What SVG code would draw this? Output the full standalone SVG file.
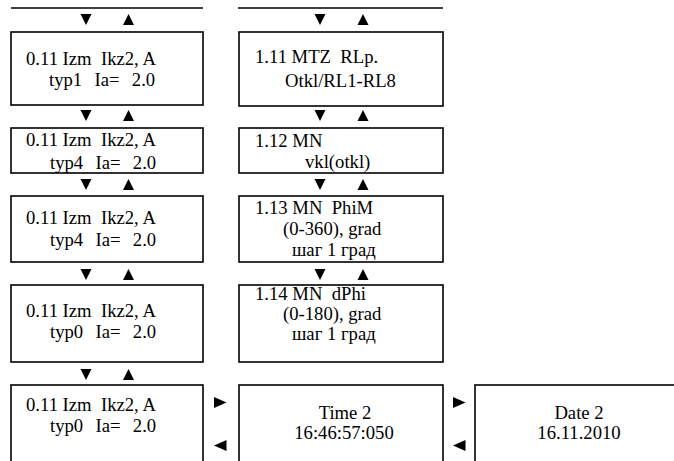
<svg xmlns="http://www.w3.org/2000/svg" width="674" height="461" viewBox="0 0 674 461">
<style>
.box{fill:#fff;stroke:#000;stroke-width:1.6}
.t{font-family:"Liberation Serif","Times New Roman",serif;font-size:18.67px;fill:#000;white-space:pre}
.w{word-spacing:1.5px}
.c{text-anchor:middle}
.ln{stroke:#000;stroke-width:1.6}
.ar{fill:#000}
</style>
<defs>
<path id="dn" d="M-5.5,0 H5.5 L0,11 Z"/>
<path id="up" d="M-5.5,11 H5.5 L0,0 Z"/>
<path id="rt" d="M0,0 V11 L12.5,5.5 Z"/>
<path id="lt" d="M12.5,0 V11 L0,5.5 Z"/>
</defs>
<g id="connectors" class="ar">
<line class="ln" x1="11" y1="8" x2="203" y2="8"/>
<line class="ln" x1="238" y1="8" x2="443" y2="8"/>
<use href="#dn" x="86" y="14"/><use href="#up" x="128.5" y="14"/>
<use href="#dn" x="86" y="110"/><use href="#up" x="128.5" y="110"/>
<use href="#dn" x="86" y="179"/><use href="#up" x="128.5" y="179"/>
<use href="#dn" x="86" y="269"/><use href="#up" x="128.5" y="269"/>
<use href="#dn" x="86" y="369"/><use href="#up" x="128.5" y="369"/>
<use href="#dn" x="320" y="14"/><use href="#up" x="363" y="14"/>
<use href="#dn" x="320" y="110"/><use href="#up" x="363" y="110"/>
<use href="#dn" x="320" y="179"/><use href="#up" x="363" y="179"/>
<use href="#dn" x="320" y="269"/><use href="#up" x="363" y="269"/>
<use href="#rt" x="214" y="397"/><use href="#lt" x="214" y="440"/>
<use href="#rt" x="453" y="397"/><use href="#lt" x="453" y="440"/>
</g>
<g id="n1"><rect class="box" x="11" y="32" width="192" height="73"/>
<text class="t" x="26" y="65">0.11 Izm  Ikz2, A</text><text class="t w" x="49" y="86">typ1  Ia=  2.0</text></g>
<g id="n2"><rect class="box" x="11" y="128" width="192" height="45"/>
<text class="t" x="26" y="146">0.11 Izm  Ikz2, A</text><text class="t w" x="50" y="169">typ4  Ia=  2.0</text></g>
<g id="n3"><rect class="box" x="11" y="196" width="192" height="66"/>
<text class="t" x="26" y="224">0.11 Izm  Ikz2, A</text><text class="t w" x="50" y="246">typ4  Ia=  2.0</text></g>
<g id="n4"><rect class="box" x="11" y="285" width="192" height="77"/>
<text class="t" x="26" y="317">0.11 Izm  Ikz2, A</text><text class="t w" x="50" y="338">typ0  Ia=  2.0</text></g>
<g id="n5"><rect class="box" x="11" y="385" width="192" height="90"/>
<text class="t" x="26" y="411">0.11 Izm  Ikz2, A</text><text class="t w" x="50" y="432">typ0  Ia=  2.0</text></g>
<g id="m1"><rect class="box" x="239" y="32" width="204" height="74"/>
<text class="t" x="255" y="63">1.11 MTZ  RLp.</text><text class="t" x="285" y="87">Otkl/RL1-RL8</text></g>
<g id="m2"><rect class="box" x="239" y="128" width="204" height="45"/>
<text class="t" x="255" y="147">1.12 MN</text><text class="t" x="305" y="168">vkl(otkl)</text></g>
<g id="m3"><rect class="box" x="239" y="196" width="204" height="66"/>
<text class="t" x="255" y="214">1.13 MN  PhiM</text><text class="t" x="283" y="235">(0-360), grad</text><text class="t" x="292" y="256">шаг 1 град</text></g>
<g id="m4"><rect class="box" x="239" y="285" width="204" height="77"/>
<text class="t" x="255" y="300">1.14 MN  dPhi</text><text class="t" x="283" y="320">(0-180), grad</text><text class="t" x="292" y="340">шаг 1 град</text></g>
<g id="time"><rect class="box" x="239" y="385" width="204" height="90"/>
<text class="t c" x="345" y="419">Time 2</text><text class="t c" x="344" y="439">16:46:57:050</text></g>
<g id="date"><rect class="box" x="475" y="385" width="215" height="90"/>
<text class="t c" x="579" y="419">Date 2</text><text class="t c" x="579" y="439">16.11.2010</text></g>
</svg>
